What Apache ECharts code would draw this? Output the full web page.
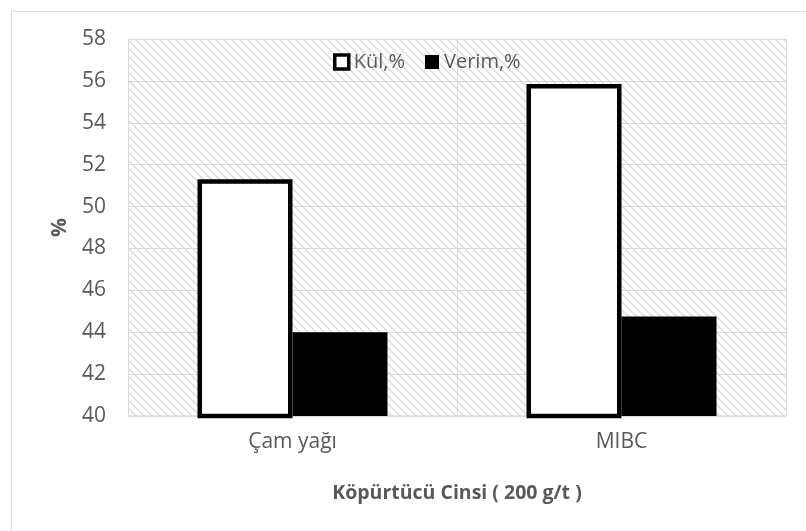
<!DOCTYPE html>
<html>
<head>
<meta charset="utf-8">
<script src="https://cdn.jsdelivr.net/npm/echarts@6/dist/echarts.min.js"></script>
<style>
  html, body { margin: 0; padding: 0; background: #fff; }
  #chart { width: 806px; height: 531px; }
</style>
</head>
<body>
<div id="chart"></div>
<script>
// Frother type vs. ash and yield
const categories = ['Çam yağı', 'MIBC'];
const seriesNames = ['Kül,%', 'Verim,%'];
const kulValues = [51.3, 55.85];
const verimValues = [44.0, 44.75];
const yTicks = { min: 40, max: 58, step: 2 };

// Light downward-diagonal hatch used for the plot background
function hatchTile() {
  const size = 8;
  const c = document.createElement('canvas');
  c.width = size; c.height = size;
  const ctx = c.getContext('2d');
  ctx.fillStyle = '#ffffff';
  ctx.fillRect(0, 0, size, size);
  ctx.strokeStyle = '#dcdcdc';
  ctx.lineWidth = 1.5;
  for (let k = -1; k <= 1; k++) {
    ctx.beginPath();
    ctx.moveTo(-1, -1 + size * k);
    ctx.lineTo(size + 1, size + 1 + size * k);
    ctx.stroke();
  }
  return c;
}

const FONT = '"Open Sans", sans-serif';
const TXT = '#595959';
const GRIDC = '#d9d9d9';

const chart = echarts.init(document.getElementById('chart'), null, { renderer: 'canvas' });

chart.setOption({
  animation: false,
  backgroundColor: '#ffffff',
  textStyle: { fontFamily: FONT },
  graphic: [{
    type: 'rect',
    left: 9, top: 9,
    shape: { width: 900, height: 600 },
    style: { fill: 'none', stroke: GRIDC, lineWidth: 1 },
    silent: true
  }],
  grid: {
    left: 128, right: 20, top: 39, bottom: 115,
    show: true,
    borderWidth: 0,
    backgroundColor: { image: hatchTile(), repeat: 'repeat' }
  },
  legend: {
    left: 328, top: 47,
    itemWidth: 14, itemHeight: 14,
    itemGap: 20,
    textStyle: { fontFamily: FONT, fontSize: 20, color: TXT },
    data: [
      { name: seriesNames[0], icon: 'rect', itemStyle: { color: '#ffffff', borderColor: '#000', borderWidth: 3.5 } },
      { name: seriesNames[1], icon: 'rect', itemStyle: { color: '#000000', borderWidth: 0 } }
    ]
  },
  xAxis: {
    type: 'category',
    data: categories,
    axisLine: { show: true, lineStyle: { color: GRIDC, width: 1.5 } },
    axisTick: { show: false },
    splitLine: { show: true, interval: 0, lineStyle: { color: GRIDC, width: 1 } },
    axisLabel: { fontFamily: FONT, fontSize: 21, color: TXT, margin: 16 },
    name: 'Köpürtücü Cinsi ( 200 g/t )',
    nameLocation: 'middle',
    nameGap: 67,
    nameTextStyle: { fontFamily: FONT, fontSize: 19.5, fontWeight: 'bold', color: TXT }
  },
  yAxis: {
    type: 'value',
    min: yTicks.min, max: yTicks.max, interval: yTicks.step,
    axisLine: { show: false },
    axisTick: { show: false },
    splitLine: { show: true, lineStyle: { color: GRIDC, width: 1 } },
    axisLabel: { fontFamily: FONT, fontSize: 21, color: TXT, margin: 22 },
    name: '%',
    nameLocation: 'middle',
    nameGap: 57,
    nameRotate: 90,
    nameTextStyle: { fontFamily: FONT, fontSize: 21, fontWeight: 'bold', color: TXT }
  },
  series: [
    {
      name: seriesNames[0],
      type: 'bar',
      data: kulValues,
      barWidth: 95,
      barGap: '0%',
      itemStyle: { color: '#ffffff', borderColor: '#000000', borderWidth: 4.5 },
      z: 3
    },
    {
      name: seriesNames[1],
      type: 'bar',
      data: verimValues,
      barWidth: 95,
      barGap: '0%',
      itemStyle: { color: '#000000' },
      z: 2
    }
  ]
});
</script>
</body>
</html>
